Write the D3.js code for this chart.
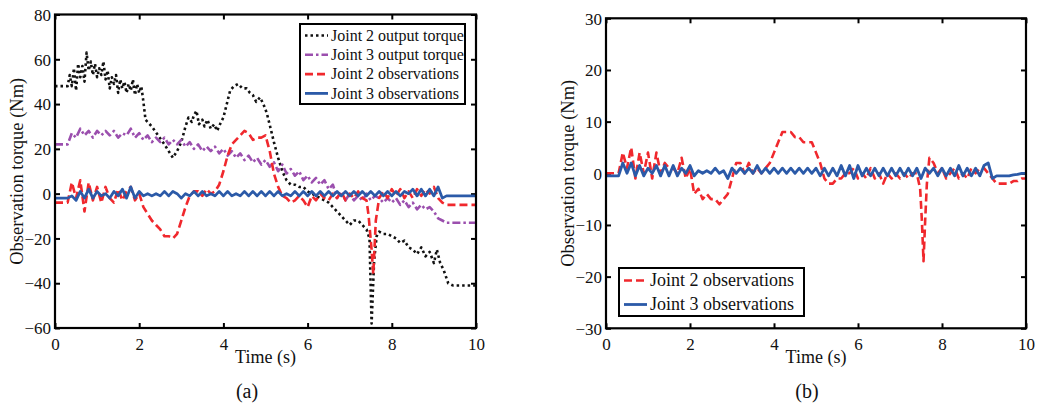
<!DOCTYPE html>
<html>
<head>
<meta charset="utf-8">
<script src="https://cdn.jsdelivr.net/npm/d3@7/dist/d3.min.js"></script>
<style>
  html, body { margin: 0; padding: 0; background: #fff; }
  svg { display: block; }
  text { font-family: "Liberation Serif", "Times New Roman", serif; fill: #111; }
</style>
</head>
<body>
<svg id="chart" width="1037" height="408"></svg>
<script>
// ---- Data: [time (s), torque (Nm)] ----
const xTicks = [0, 2, 4, 6, 8, 10];
const yTicksA = [80, 60, 40, 20, 0, -20, -40, -60];
const yTicksB = [30, 20, 10, 0, -10, -20, -30];

// Panel (a)
const joint2Torque = [[0,48],[0.1,48],[0.2,48],[0.3,48],[0.35,53],[0.4,48],[0.45,56],[0.5,46],[0.55,58],[0.6,52],[0.65,57],[0.7,50],[0.75,63],[0.8,55],[0.85,59],[0.9,53],[0.95,58],[1.0,52],[1.05,56],[1.1,53],[1.15,59],[1.2,51],[1.25,55],[1.3,47],[1.35,52],[1.4,49],[1.45,53],[1.5,45],[1.55,51],[1.6,47],[1.65,50],[1.7,45],[1.75,49],[1.8,46],[1.85,51],[1.9,44],[1.95,49],[2.0,45],[2.05,48],[2.1,41],[2.15,33],[2.3,30],[2.45,26],[2.6,22],[2.7,19],[2.8,16],[2.9,19],[3.0,23],[3.1,30],[3.17,34],[3.25,32],[3.3,35],[3.36,37],[3.42,31],[3.5,33],[3.55,30],[3.62,33],[3.7,29],[3.78,31],[3.85,28],[3.92,31],[4.0,34],[4.08,40],[4.16,46],[4.25,48],[4.35,49],[4.45,47],[4.55,47],[4.63,45],[4.7,44],[4.78,41],[4.87,43],[4.95,40],[5.03,36],[5.11,30],[5.2,23],[5.3,16],[5.4,10],[5.5,6],[5.6,4],[5.7,4],[5.8,3],[5.9,3],[6.0,1],[6.1,0],[6.2,-1],[6.3,-2],[6.4,-3],[6.5,-4],[6.6,-6],[6.7,-8],[6.8,-10],[6.9,-12],[7.0,-14],[7.1,-12],[7.2,-12],[7.3,-14],[7.4,-16],[7.47,-20],[7.52,-58],[7.58,-30],[7.64,-19],[7.7,-17],[7.8,-18],[7.9,-18],[8.0,-19],[8.1,-20],[8.2,-22],[8.3,-21],[8.4,-24],[8.5,-25],[8.6,-27],[8.7,-24],[8.8,-28],[8.9,-26],[9.0,-31],[9.07,-25],[9.15,-31],[9.23,-34],[9.34,-40],[9.45,-41],[10,-41]];

const joint3Torque = [[0,22],[0.1,22],[0.2,22],[0.3,22],[0.4,27],[0.5,25],[0.6,29],[0.7,26],[0.8,28],[0.9,25],[1.0,28],[1.1,26],[1.2,28],[1.3,26],[1.4,28],[1.5,25],[1.6,27],[1.7,26],[1.8,29],[1.9,25],[2.0,27],[2.1,24],[2.2,26],[2.3,23],[2.4,25],[2.5,23],[2.6,25],[2.7,22],[2.8,24],[2.9,22],[3.0,24],[3.1,21],[3.2,23],[3.3,20],[3.4,22],[3.5,19],[3.6,21],[3.7,19],[3.8,21],[3.9,18],[4.0,20],[4.1,17],[4.2,19],[4.3,16],[4.4,18],[4.5,15],[4.6,17],[4.7,14],[4.8,16],[4.9,13],[5.0,15],[5.1,12],[5.2,14],[5.3,10],[5.4,13],[5.5,9],[5.6,11],[5.7,8],[5.8,10],[5.9,6],[6.0,8],[6.1,5],[6.2,7],[6.3,4],[6.4,6],[6.5,2],[6.6,4],[6.7,-2],[6.8,1],[6.9,-3],[7.0,0],[7.1,-3],[7.2,-1],[7.3,-3],[7.4,0],[7.5,-3],[7.6,-1],[7.7,-2],[7.8,-4],[7.9,-2],[8.0,-4],[8.1,-2],[8.2,-5],[8.3,-3],[8.4,-6],[8.5,-4],[8.6,-7],[8.7,-5],[8.8,-7],[8.9,-6],[9.0,-8],[9.1,-11],[9.2,-12],[9.3,-13],[9.4,-13],[10,-13]];

const joint2ObsA = [[0,-4],[0.1,-4],[0.2,-4],[0.3,-4],[0.4,5],[0.5,-2],[0.6,6],[0.7,-8],[0.8,5],[0.9,-3],[1.0,3],[1.1,-4],[1.2,3],[1.3,-2],[1.4,-4],[1.5,2],[1.6,-3],[1.7,1],[1.8,3],[1.9,-3],[2.0,0],[2.1,-6],[2.2,-9],[2.3,-12],[2.4,-14],[2.5,-16],[2.6,-19],[2.7,-19],[2.8,-20],[2.9,-18],[3.0,-12],[3.1,-6],[3.2,-1],[3.3,1],[3.4,1],[3.5,-1],[3.6,2],[3.7,0],[3.8,1],[3.9,4],[4.0,10],[4.1,17],[4.2,22],[4.3,24],[4.4,26],[4.5,28],[4.6,27],[4.7,24],[4.8,25],[4.9,25],[5.0,26],[5.1,19],[5.2,9],[5.3,3],[5.4,-1],[5.5,-2],[5.6,-4],[5.7,-3],[5.8,-1],[5.9,-3],[6.0,-6],[6.1,-1],[6.2,-3],[6.3,0],[6.4,-2],[6.5,-3],[6.6,0],[6.7,-2],[6.8,1],[6.9,-3],[7.0,0],[7.1,-2],[7.2,1],[7.3,-2],[7.4,-3],[7.45,-10],[7.52,-25],[7.56,-36],[7.62,-12],[7.7,-2],[7.8,1],[7.9,-2],[8.0,2],[8.1,-1],[8.2,2],[8.3,-2],[8.4,1],[8.5,-2],[8.6,2],[8.7,-1],[8.8,2],[8.9,0],[9.0,3],[9.1,-2],[9.2,-4],[9.3,-5],[10,-5]];

const joint3ObsA = [[0,-2],[0.1,-2],[0.2,-2],[0.3,-2],[0.4,-1],[0.5,-3],[0.6,1],[0.7,-2],[0.8,2],[0.9,-2],[1.0,1],[1.1,-1],[1.2,0],[1.3,-2],[1.4,1],[1.5,-1],[1.6,2],[1.7,-2],[1.8,3],[1.9,-2],[2.0,1],[2.1,-1],[2.2,0],[2.3,-1],[2.4,0],[2.5,-1],[2.6,1],[2.7,-1],[2.8,1],[2.9,0],[3.0,-2],[3.1,0],[3.2,-1],[3.3,1],[3.4,-1],[3.5,1],[3.6,-1],[3.7,0],[3.8,-1],[3.9,1],[4.0,-1],[4.1,1],[4.2,-1],[4.3,0],[4.4,-1],[4.5,1],[4.6,-1],[4.7,1],[4.8,-1],[4.9,1],[5.0,-1],[5.1,1],[5.2,-1],[5.3,1],[5.4,-1],[5.5,0],[5.6,-1],[5.7,1],[5.8,-1],[5.9,1],[6.0,-1],[6.1,1],[6.2,-1],[6.3,1],[6.4,-1],[6.5,1],[6.6,-1],[6.7,1],[6.8,-1],[6.9,1],[7.0,-1],[7.1,1],[7.2,-1],[7.3,1],[7.4,-1],[7.5,1],[7.6,-1],[7.7,1],[7.8,-1],[7.9,1],[8.0,-1],[8.1,1],[8.2,-1],[8.3,1],[8.4,0],[8.5,2],[8.6,-1],[8.7,2],[8.8,-1],[8.9,2],[9.0,-1],[9.1,3],[9.2,-2],[9.3,-1],[10,-1]];

// Panel (b)
const joint2ObsB = [[0,0],[0.1,0],[0.2,0],[0.3,0],[0.4,4],[0.5,1],[0.6,5],[0.7,-1],[0.8,4],[0.9,0],[1.0,4],[1.1,-1],[1.2,4],[1.3,0],[1.4,2],[1.5,1],[1.6,1],[1.7,0],[1.8,3],[1.9,-1],[2.0,1],[2.1,-4],[2.2,-3],[2.3,-5],[2.4,-4],[2.5,-5],[2.6,-5],[2.7,-6],[2.8,-5],[2.9,-4],[3.0,-1],[3.1,2],[3.2,2],[3.3,0],[3.4,2],[3.5,0],[3.6,1],[3.7,0],[3.8,1],[3.9,2],[4.0,4],[4.1,6],[4.2,8],[4.3,8],[4.4,8],[4.5,7],[4.6,7],[4.7,6],[4.8,6],[4.9,6],[5.0,4],[5.1,2],[5.2,-1],[5.3,-2],[5.4,-2],[5.5,-1],[5.6,-1],[5.7,0],[5.8,0],[5.9,1],[6.0,-1],[6.1,0],[6.2,-1],[6.3,1],[6.4,-1],[6.5,0],[6.6,-2],[6.7,0],[6.8,-1],[6.9,0],[7.0,-1],[7.1,0],[7.2,-1],[7.3,0],[7.4,0],[7.48,-3],[7.52,-9],[7.56,-17],[7.6,-9],[7.64,-2],[7.7,3],[7.8,2],[7.9,0],[8.0,1],[8.1,-1],[8.2,0],[8.3,1],[8.4,-1],[8.5,0],[8.6,-1],[8.7,1],[8.8,0],[8.9,1],[9.0,1],[9.1,0],[9.2,-1],[9.3,-2],[9.4,-2],[9.5,-2],[9.6,-2],[9.7,-1.5],[9.8,-1.5],[9.9,-1],[10,-1]];

const joint3ObsB = [[0,-0.5],[0.1,-0.5],[0.2,-0.5],[0.3,-0.5],[0.4,2],[0.5,0],[0.6,2],[0.7,-0.5],[0.8,1.5],[0.9,-0.5],[1.0,1],[1.1,0],[1.2,1.5],[1.3,-0.5],[1.4,1.5],[1.5,-0.5],[1.6,1.5],[1.7,-0.5],[1.8,1],[1.9,0],[2.0,1.5],[2.1,-0.5],[2.2,0.5],[2.3,0],[2.4,0.5],[2.5,0],[2.6,1],[2.7,0],[2.8,0.5],[2.9,-1],[3.0,1],[3.1,0],[3.2,1],[3.3,0],[3.4,1],[3.5,0],[3.6,1.5],[3.7,0],[3.8,1],[3.9,0],[4.0,1],[4.1,0],[4.2,1],[4.3,0],[4.4,1],[4.5,0],[4.6,1],[4.7,0],[4.8,1],[4.9,0],[5.0,1],[5.1,-0.5],[5.2,1],[5.3,-0.5],[5.4,1],[5.5,-0.5],[5.6,1.5],[5.7,-0.5],[5.8,1.5],[5.9,-1],[6.0,1.5],[6.1,-0.5],[6.2,1],[6.3,-0.5],[6.4,1],[6.5,-0.5],[6.6,1],[6.7,-0.5],[6.8,1],[6.9,-0.5],[7.0,1],[7.1,-0.5],[7.2,1],[7.3,-0.5],[7.4,1],[7.5,-1],[7.6,1],[7.7,0],[7.8,1],[7.9,-0.5],[8.0,1],[8.1,-0.5],[8.2,1],[8.3,-0.5],[8.4,1.5],[8.5,-0.5],[8.6,1],[8.7,-0.5],[8.8,1],[8.9,-0.5],[9.0,1.5],[9.1,2],[9.2,-1],[9.3,-0.5],[9.4,-0.5],[9.5,-0.5],[9.6,-0.5],[9.7,-0.3],[9.8,-0.2],[9.9,0],[10,0]];

// ---- Styles ----
const styles = {
  j2Torque: { color: "#111111", dash: "2.5,3", width: 2.6, label: "Joint 2 output torque" },
  j3Torque: { color: "#9b4fae", dash: "8,3,2.5,3", width: 2.6, label: "Joint 3 output torque" },
  j2Obs:    { color: "#f0282d", dash: "8,4", width: 2.6, label: "Joint 2 observations" },
  j3Obs:    { color: "#2b5aa8", dash: null, width: 2.8, label: "Joint 3 observations" }
};

const svg = d3.select("#chart");

function panel(opts) {
  const { x0, x1, y0, y1, yDomain, yTicks, series, legend, yLabelX, caption, captionX } = opts;
  const x = d3.scaleLinear().domain([0, 10]).range([x0, x1]);
  const y = d3.scaleLinear().domain(yDomain).range([y1, y0]);
  const g = svg.append("g");

  // ticks and tick labels
  const tickLen = 5;
  const bottom = g.append("g").attr("transform", `translate(0,${y1})`)
    .call(d3.axisBottom(x).tickValues(xTicks).tickSizeInner(-tickLen).tickSizeOuter(0).tickPadding(10));
  const top = g.append("g").attr("transform", `translate(0,${y0})`)
    .call(d3.axisTop(x).tickValues(xTicks).tickSizeInner(-tickLen).tickSizeOuter(0).tickFormat(""));
  const left = g.append("g").attr("transform", `translate(${x0},0)`)
    .call(d3.axisLeft(y).tickValues(yTicks).tickSizeInner(-tickLen).tickSizeOuter(0).tickPadding(4));
  const right = g.append("g").attr("transform", `translate(${x1},0)`)
    .call(d3.axisRight(y).tickValues(yTicks).tickSizeInner(-tickLen).tickSizeOuter(0).tickFormat(""));
  [bottom, top, left, right].forEach(a => {
    a.select(".domain").remove();
    a.selectAll(".tick line").attr("stroke", "#000").attr("stroke-width", 2);
    a.selectAll(".tick text")
      .style("font-family", '"Liberation Serif", "Times New Roman", serif')
      .style("font-size", "17px").attr("fill", "#111");
  });
  left.selectAll(".tick text").attr("dy", "0.34em");

  // data lines
  const line = d3.line().x(d => x(d[0])).y(d => y(d[1]));
  series.forEach(s => {
    const st = styles[s.key];
    g.append("path").datum(s.data)
      .attr("d", line)
      .attr("fill", "none")
      .attr("stroke", st.color)
      .attr("stroke-width", st.width)
      .attr("stroke-dasharray", st.dash)
      .attr("stroke-linejoin", "round");
  });

  // frame
  g.append("rect").attr("x", x0).attr("y", y0)
    .attr("width", x1 - x0).attr("height", y1 - y0)
    .attr("fill", "none").attr("stroke", "#000").attr("stroke-width", 2.2);

  // legend
  const lg = g.append("g");
  lg.append("rect").attr("x", legend.x).attr("y", legend.y)
    .attr("width", legend.w).attr("height", legend.h)
    .attr("fill", "#fff").attr("stroke", "#000").attr("stroke-width", 2);
  legend.keys.forEach((k, i) => {
    const st = styles[k];
    const cy = legend.y + legend.first + i * legend.step;
    lg.append("line")
      .attr("x1", legend.x + 5).attr("x2", legend.x + 5 + legend.sample)
      .attr("y1", cy).attr("y2", cy)
      .attr("stroke", st.color).attr("stroke-width", st.width)
      .attr("stroke-dasharray", st.dash);
    lg.append("text")
      .attr("x", legend.x + 8 + legend.sample).attr("y", cy)
      .attr("dy", "0.33em")
      .style("font-size", legend.font + "px")
      .text(st.label);
  });

  // axis titles
  g.append("text")
    .attr("x", (x0 + x1) / 2).attr("y", 363)
    .attr("text-anchor", "middle")
    .style("font-size", "18px")
    .text("Time (s)");
  g.append("text")
    .attr("transform", `translate(${yLabelX},${(y0 + y1) / 2}) rotate(-90)`)
    .attr("text-anchor", "middle")
    .style("font-size", "18.5px")
    .text("Observation torque (Nm)");
  g.append("text")
    .attr("x", captionX).attr("y", 398)
    .attr("text-anchor", "middle")
    .style("font-size", "20px")
    .text(caption);
}

panel({
  x0: 55, x1: 476, y0: 14.5, y1: 328,
  yDomain: [-60, 80], yTicks: yTicksA,
  series: [
    { key: "j2Torque", data: joint2Torque },
    { key: "j3Torque", data: joint3Torque },
    { key: "j2Obs", data: joint2ObsA },
    { key: "j3Obs", data: joint3ObsA }
  ],
  legend: { x: 300, y: 24, w: 165, h: 80, first: 11.5, step: 19.3, sample: 23, font: 16,
            keys: ["j2Torque", "j3Torque", "j2Obs", "j3Obs"] },
  yLabelX: 23, caption: "(a)", captionX: 247
});

panel({
  x0: 606, x1: 1026, y0: 18.3, y1: 328.3,
  yDomain: [-30, 30], yTicks: yTicksB,
  series: [
    { key: "j2Obs", data: joint2ObsB },
    { key: "j3Obs", data: joint3ObsB }
  ],
  legend: { x: 619, y: 268, w: 185, h: 48, first: 12.5, step: 24, sample: 23, font: 18,
            keys: ["j2Obs", "j3Obs"] },
  yLabelX: 574, caption: "(b)", captionX: 807
});
</script>
</body>
</html>
